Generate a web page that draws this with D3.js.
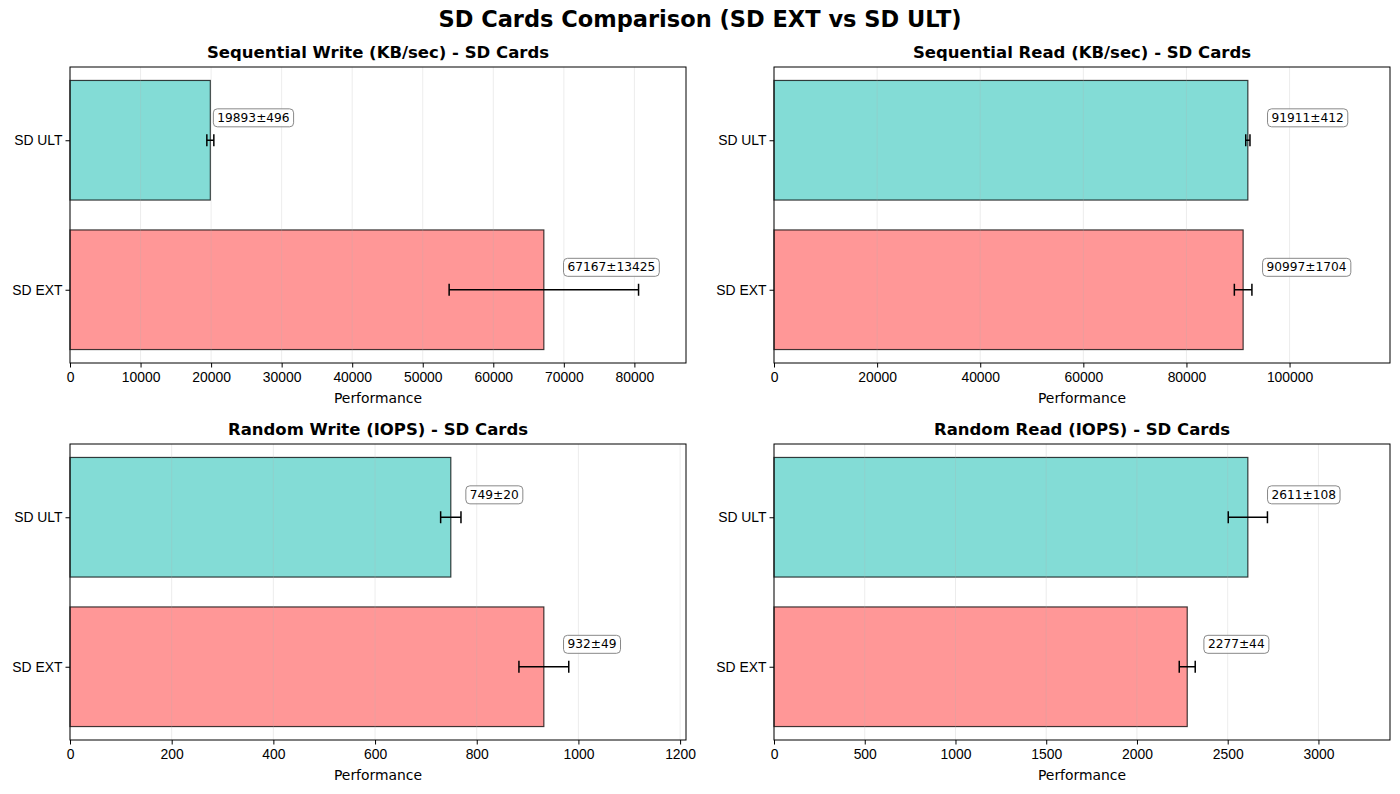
<!DOCTYPE html>
<html>
<head>
<meta charset="utf-8">
<script src="https://cdn.jsdelivr.net/npm/d3@7"></script>
<style>
  body { margin: 0; background: #fff; }
  svg { font-family: "DejaVu Sans", sans-serif; }
</style>
</head>
<body>
<div id="chart"></div>
<script>
const categories = ["SD EXT", "SD ULT"];
const panelTitles = [
  "Sequential Write (KB/sec) - SD Cards",
  "Sequential Read (KB/sec) - SD Cards",
  "Random Write (IOPS) - SD Cards",
  "Random Read (IOPS) - SD Cards"
];
const extMeans = [67167, 90997, 932, 2277];
const extErrs = [13425, 1704, 49, 44];
const ultMeans = [19893, 91911, 749, 2611];
const ultErrs = [496, 412, 20, 108];
const xTicks = [
  [0, 10000, 20000, 30000, 40000, 50000, 60000, 70000, 80000],
  [0, 20000, 40000, 60000, 80000, 100000],
  [0, 200, 400, 600, 800, 1000, 1200],
  [0, 500, 1000, 1500, 2000, 2500, 3000]
];
const colors = ["#FF6B6B", "#4ECDC4"];

const W = 1400, H = 794;
const svg = d3.select("#chart").append("svg")
  .attr("width", W).attr("height", H);

svg.append("text")
  .attr("x", W / 2).attr("y", 27)
  .attr("text-anchor", "middle")
  .style("font-size", "22.5px").style("font-weight", "bold")
  .text("SD Cards Comparison (SD EXT vs SD ULT)");

// axes boxes (left, top)
const boxes = [
  {x: 70, y: 67}, {x: 774, y: 67},
  {x: 70, y: 444}, {x: 774, y: 444}
];
const pw = 616, ph = 296;

panelTitles.forEach((title, p) => {
  const g = svg.append("g")
    .attr("transform", "translate(" + boxes[p].x + "," + boxes[p].y + ")");

  const means = [extMeans[p], ultMeans[p]];
  const errs = [extErrs[p], ultErrs[p]];

  const x = d3.scaleLinear()
    .domain([0, d3.max(means) * 1.3])
    .range([0, pw]);
  const y = d3.scaleLinear()
    .domain([-0.49, 1.49])
    .range([ph, 0]);

  g.append("text")
    .attr("x", pw / 2).attr("y", -9)
    .attr("text-anchor", "middle")
    .style("font-size", "16.5px").style("font-weight", "bold")
    .text(title);

  // bars
  g.selectAll("rect.bar")
    .data(categories)
    .enter()
    .append("rect")
      .attr("class", "bar")
      .attr("x", x(0))
      .attr("y", (d, i) => y(i + 0.4))
      .attr("width", (d, i) => x(means[i]) - x(0))
      .attr("height", y(-0.4) - y(0.4))
      .attr("fill", (d, i) => colors[i])
      .attr("fill-opacity", 0.7)
      .attr("stroke", "#000")
      .attr("stroke-opacity", 0.75)
      .attr("stroke-width", 1.2);

  // grid
  g.selectAll("line.grid")
    .data(xTicks[p])
    .enter()
    .append("line")
      .attr("x1", d => x(d)).attr("x2", d => x(d))
      .attr("y1", 0).attr("y2", ph)
      .style("stroke", "#b0b0b0")
      .style("stroke-opacity", 0.3)
      .style("stroke-width", 0.8);

  // error bars
  categories.forEach((c, i) => {
    const cy = y(i);
    const x1 = x(means[i] - errs[i]), x2 = x(means[i] + errs[i]);
    g.append("line")
      .attr("x1", x1).attr("x2", x2).attr("y1", cy).attr("y2", cy)
      .style("stroke", "#000").style("stroke-width", 1.5);
    [x1, x2].forEach(cx => {
      g.append("line")
        .attr("x1", cx).attr("x2", cx).attr("y1", cy - 6).attr("y2", cy + 6)
        .style("stroke", "#000").style("stroke-width", 1.5);
    });
  });

  // value labels
  categories.forEach((c, i) => {
    const lbl = g.append("g")
      .attr("transform", "translate(" + x(means[i] * 1.05) + "," + y(i + 0.15) + ")");
    const t = lbl.append("text")
      .attr("x", 0).attr("y", 4)
      .style("font-size", "12.2px")
      .text(means[i] + "±" + errs[i]);
    const bb = t.node().getBBox();
    lbl.insert("rect", "text")
      .attr("x", bb.x - 4).attr("y", -9)
      .attr("width", bb.width + 8).attr("height", 18)
      .attr("rx", 4)
      .attr("fill", "#fff").attr("fill-opacity", 0.8)
      .attr("stroke", "#888").attr("stroke-width", 1);
  });

  // axes
  const xAxis = g.append("g")
    .attr("transform", "translate(0," + ph + ")")
    .call(d3.axisBottom(x).tickValues(xTicks[p]).tickFormat(d3.format("d")).tickSizeOuter(0).tickSize(4.5));
  xAxis.select(".domain").remove();
  xAxis.selectAll("text").style("font-size", "13.9px").attr("dy", "0.85em");

  const yAxis = g.append("g")
    .call(d3.axisLeft(y).tickValues([0, 1]).tickFormat(i => categories[i]).tickSizeOuter(0).tickSize(4.5));
  yAxis.select(".domain").remove();
  yAxis.selectAll("text").style("font-size", "13.9px");

  g.append("rect")
    .attr("x", 0).attr("y", 0).attr("width", pw).attr("height", ph)
    .attr("fill", "none").attr("stroke", "#000").attr("stroke-width", 1);

  g.append("text")
    .attr("x", pw / 2).attr("y", ph + 40)
    .attr("text-anchor", "middle")
    .style("font-size", "13.9px")
    .text("Performance");
});
</script>
</body>
</html>
